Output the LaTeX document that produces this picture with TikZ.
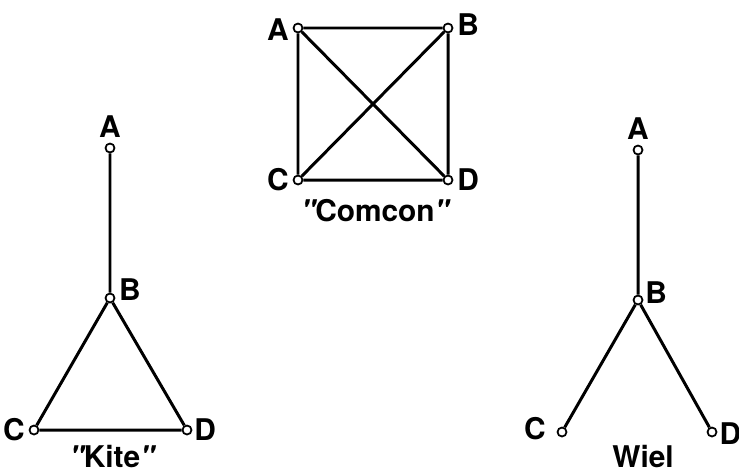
\documentclass[tikz,border=0pt]{standalone}
\usepackage{fontspec}
\setsansfont{TeX Gyre Heros}
\usetikzlibrary{positioning}
\newcommand{\qq}{{\itshape\textquotedbl}}
\tikzset{
  % pixel grid of the scan, y running downwards
  every picture/.append style = {x=0.02cm, y=-0.02cm},
  joint/.style  = {circle, draw, fill=white, line width=1pt, inner sep=0pt, minimum size=1.8mm},
  bar/.style    = {line width=1.7pt},
  lbl/.style    = {font=\sffamily\bfseries\fontsize{17}{17}\selectfont, inner sep=1pt},
  title/.style  = {font=\sffamily\bfseries\fontsize{17}{17}\selectfont, inner sep=1pt},
}
\begin{document}
\begin{tikzpicture}
  \useasboundingbox (0,0) rectangle (739,471);
  % "Comcon": every joint tied to every other
  \node[joint] (cA) at (298,28) {};
  \node[joint] (cB) at (448,28) {};
  \node[joint] (cC) at (298,180) {};
  \node[joint] (cD) at (448,180) {};
  \draw[bar] (cA) -- (cB) -- (cD) -- (cC) -- (cA) -- (cD) (cB) -- (cC);
  \node[lbl, left=1pt of cA, yshift=-1pt] {A};
  \node[lbl, right=1pt of cB, yshift=2pt] {B};
  \node[lbl, left=1pt of cC] {C};
  \node[lbl, right=1pt of cD] {D};
  \node[title] at (375,211) {\qq Comcon\qq};
  % "Kite": stalk with a closed triangle
  \node[joint] (kA) at (110,148) {};
  \node[joint] (kB) at (110,298) {};
  \node[joint] (kC) at (34,430) {};
  \node[joint] (kD) at (187,430) {};
  \draw[bar] (kA) -- (kB) (kB) -- (kC) -- (kD) -- (kB);
  \node[lbl, above=2pt of kA] {A};
  \node[lbl, right=1pt of kB, yshift=5pt] {B};
  \node[lbl, left=1pt of kC] {C};
  \node[lbl, right=0pt of kD] {D};
  \node[title] at (112,456) {\qq Kite\qq};
  % Wiel: stalk with two open legs
  \node[joint] (wA) at (638,150) {};
  \node[joint] (wB) at (638,300) {};
  \node[joint] (wC) at (562,432) {};
  \node[joint] (wD) at (712,432) {};
  \draw[bar] (wA) -- (wB) (wB) -- (wC) (wB) -- (wD);
  \node[lbl, above=2pt of wA] {A};
  \node[lbl, right=0pt of wB, yshift=4pt] {B};
  \node[lbl, left=5pt of wC, yshift=2pt] {C};
  \node[lbl, right=0pt of wD, yshift=-1pt] {D};
  \node[title] at (643,456) {Wiel};
\end{tikzpicture}
\end{document}
